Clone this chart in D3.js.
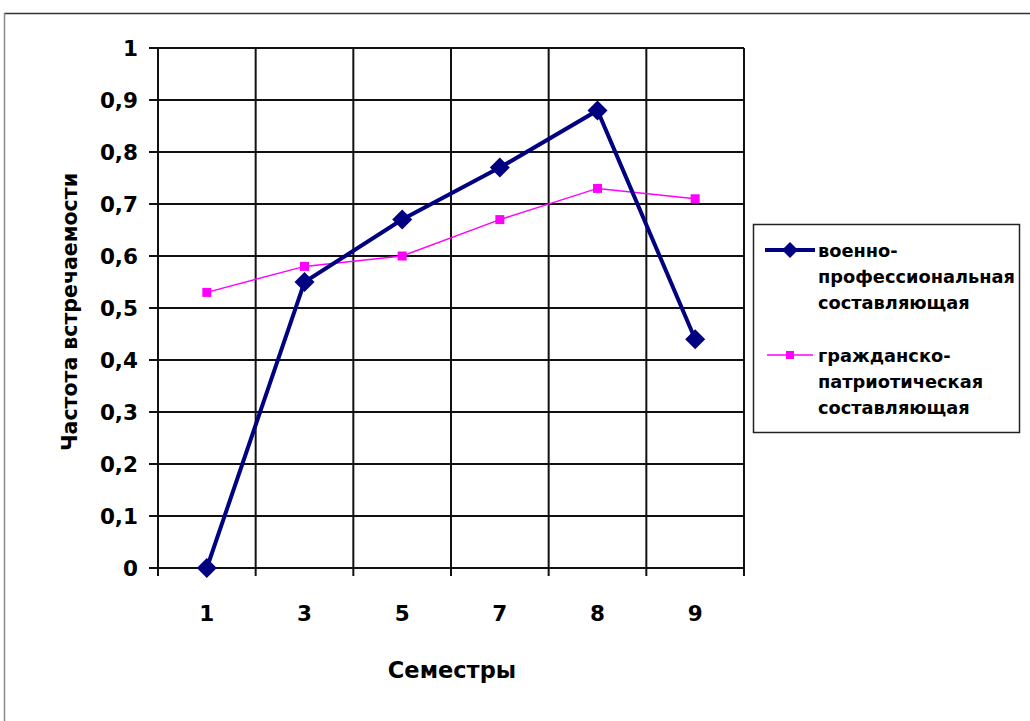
<!DOCTYPE html>
<html><head><meta charset="utf-8">
<script src="https://cdn.jsdelivr.net/npm/d3@7"></script>
<style>body{margin:0;background:#fff}svg{display:block}</style>
</head><body>
<script>
const categories = ["1","3","5","7","8","9"];
const militaryValues = [0, 0.55, 0.67, 0.77, 0.88, 0.44];
const civicValues = [0.53, 0.58, 0.60, 0.67, 0.73, 0.71];
const yTicks = [0,0.1,0.2,0.3,0.4,0.5,0.6,0.7,0.8,0.9,1];
const seriesNames = [["военно-","профессиональная","составляющая"],["гражданско-","патриотическая","составляющая"]];

const W=1030,H=721;
const svg=d3.select("body").append("svg").attr("width",W).attr("height",H);
const font="'DejaVu Sans', Verdana, sans-serif";
svg.append("line").attr("x1",4).attr("x2",W).attr("y1",13.5).attr("y2",13.5).attr("stroke","#333").attr("stroke-width",1.5);
svg.append("line").attr("x1",4.5).attr("x2",4.5).attr("y1",13).attr("y2",H).attr("stroke","#888").attr("stroke-width",1.5);

const L=158,R=744,T=48,B=568;
const x=d3.scaleBand().domain(categories).range([L,R]);
const y=d3.scaleLinear().domain([0,1]).range([B,T]);

const g=svg.append("g");
g.selectAll(".hg").data(yTicks).join("line")
 .attr("x1",L-9).attr("x2",R).attr("y1",d=>y(d)).attr("y2",d=>y(d))
 .attr("stroke","#111").attr("stroke-width",2);
const bounds=categories.map(c=>x(c)).concat([x(categories[categories.length-1])+x.bandwidth()]);
g.selectAll(".vg").data(bounds).join("line")
 .attr("x1",d=>d).attr("x2",d=>d).attr("y1",T).attr("y2",B+8)
 .attr("stroke","#111").attr("stroke-width",2);

g.selectAll(".yl").data(yTicks).join("text")
 .attr("x",138).attr("y",d=>y(d)+8).attr("text-anchor","end")
 .attr("font-family",font).attr("font-weight","bold").attr("font-size",21.5)
 .text(d=>d3.format(".1~f")(d).replace(".",","));
g.selectAll(".xl").data(categories).join("text")
 .attr("x",d=>x(d)+x.bandwidth()/2).attr("y",621).attr("text-anchor","middle")
 .attr("font-family",font).attr("font-weight","bold").attr("font-size",21.5)
 .text(d=>d);

svg.append("text").attr("transform","translate(77,312) rotate(-90)").attr("text-anchor","middle")
 .attr("font-family",font).attr("font-weight","bold").attr("font-size",20.5).text("Частота встречаемости");
svg.append("text").attr("x",452).attr("y",678).attr("text-anchor","middle")
 .attr("font-family",font).attr("font-weight","bold").attr("font-size",22.5).text("Семестры");

const cx=d=>x(d)+x.bandwidth()/2;
const line=d3.line().x((d,i)=>cx(categories[i])).y(d=>y(d));
svg.append("path").attr("d",line(civicValues)).attr("fill","none").attr("stroke","#FF00FF").attr("stroke-width",1.5);
svg.selectAll(".cm").data(civicValues).join("rect")
 .attr("x",(d,i)=>cx(categories[i])-4.5).attr("y",d=>y(d)-4.5).attr("width",9).attr("height",9).attr("fill","#FF00FF");
svg.append("path").attr("d",line(militaryValues)).attr("fill","none").attr("stroke","#000080").attr("stroke-width",4);
const diamond=(px,py,r)=>`M${px},${py-r}L${px+r},${py}L${px},${py+r}L${px-r},${py}Z`;
svg.selectAll(".mm").data(militaryValues).join("path")
 .attr("d",(d,i)=>diamond(cx(categories[i]),y(d),10)).attr("fill","#000080");

const lg=svg.append("g");
lg.append("rect").attr("x",753.5).attr("y",224.5).attr("width",266).attr("height",208).attr("fill","#fff").attr("stroke","#222").attr("stroke-width",1.5);
lg.append("line").attr("x1",765).attr("x2",815).attr("y1",250).attr("y2",250).attr("stroke","#000080").attr("stroke-width",4);
lg.append("path").attr("d",diamond(790,250,8)).attr("fill","#000080");
seriesNames[0].forEach((t,i)=>lg.append("text").attr("x",818).attr("y",257+i*26)
 .attr("font-family",font).attr("font-weight","bold").attr("font-size",17.8).text(t));
lg.append("line").attr("x1",767).attr("x2",813).attr("y1",355).attr("y2",355).attr("stroke","#FF00FF").attr("stroke-width",1.5);
lg.append("rect").attr("x",786).attr("y",351).attr("width",8).attr("height",8).attr("fill","#FF00FF");
seriesNames[1].forEach((t,i)=>lg.append("text").attr("x",818).attr("y",362+i*26)
 .attr("font-family",font).attr("font-weight","bold").attr("font-size",17.8).text(t));
</script>
</body></html>
